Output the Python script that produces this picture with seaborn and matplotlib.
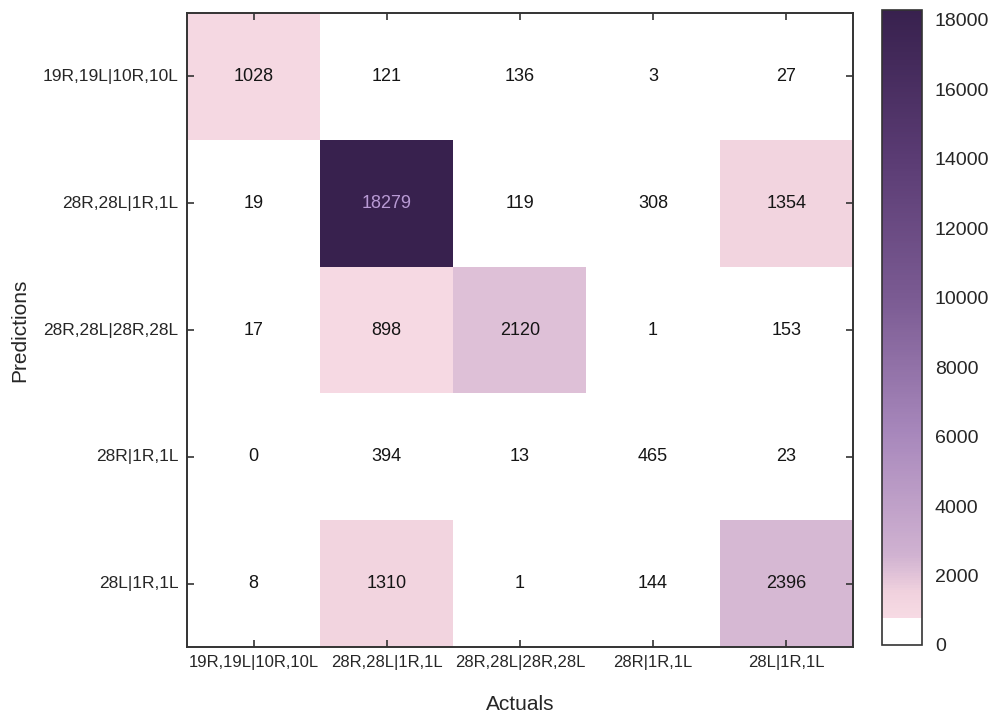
import matplotlib
matplotlib.use('Agg')
import matplotlib.pyplot as plt
from matplotlib.colors import LinearSegmentedColormap
import numpy as np
import pandas as pd
import seaborn as sns

# confusion matrix: rows = predictions, columns = actuals
labels = ['19R,19L|10R,10L', '28R,28L|1R,1L', '28R,28L|28R,28L', '28R|1R,1L', '28L|1R,1L']
row_19r = [1028, 121, 136, 3, 27]
row_28r_1r = [19, 18279, 119, 308, 1354]
row_28r_28r = [17, 898, 2120, 1, 153]
row_28r_only = [0, 394, 13, 465, 23]
row_28l = [8, 1310, 1, 144, 2396]

df = pd.DataFrame([row_19r, row_28r_1r, row_28r_28r, row_28r_only, row_28l],
                  index=labels, columns=labels)

sns.set_style('white')
plt.rcParams['font.family'] = ['Liberation Sans', 'DejaVu Sans']

# white band at the bottom, then pink -> lavender -> dark purple
cmap = LinearSegmentedColormap.from_list('confmat', [
    (0.0, '#ffffff'), (0.04, '#ffffff'), (0.0401, '#f7dbe4'), (0.08, '#f1d2de'),
    (0.14, '#d0b2d1'), (0.33, '#a888bc'), (0.55, '#7a5a92'), (0.77, '#5a3b73'),
    (1.0, '#38214e')])

fig = plt.figure(figsize=(9.95, 7.19), dpi=100)
ax = fig.add_axes([0.188, 0.100, 0.669, 0.882])
cax = fig.add_axes([0.886, 0.103, 0.041, 0.883])

g = sns.heatmap(df, ax=ax, cbar_ax=cax, cmap=cmap, vmin=0, vmax=df.values.max(),
                annot=True, fmt='d', annot_kws={'fontsize': 13, 'color': '#151515'})

for t in ax.texts:
    if t.get_text() == '18279':
        t.set_color('#b89ad4')

ax.set_axisbelow(False)
for s in ax.spines.values():
    s.set_visible(True)
    s.set_color('#333333')
    s.set_linewidth(1.4)

ax.tick_params(direction='in', length=5, width=1.2, color='#333333',
               bottom=True, left=True, top=True, right=True, pad=6)
ax.set_xticklabels(labels, rotation=0, fontsize=12)
ax.set_yticklabels(labels, rotation=0, fontsize=12.5)
ax.set_xlabel('Actuals', fontsize=15, labelpad=18)
ax.set_ylabel('Predictions', fontsize=15, labelpad=10)

cbar = g.collections[0].colorbar
cbar.set_ticks(np.arange(0, 18001, 2000))
cbar.ax.tick_params(length=0, labelsize=14, pad=9)
cbar.outline.set_visible(True)
cbar.outline.set_edgecolor('#333333')
cbar.outline.set_linewidth(1.2)

plt.savefig('out.png', dpi=100)
plt.close('all')
